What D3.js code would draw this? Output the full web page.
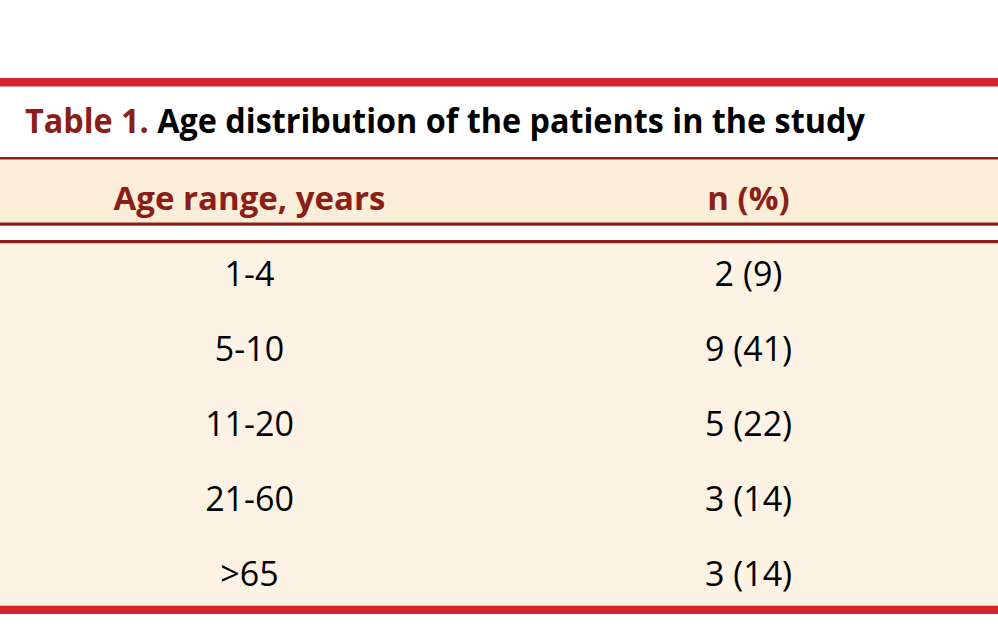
<!DOCTYPE html>
<html>
<head>
<meta charset="utf-8">
<script src="https://cdn.jsdelivr.net/npm/d3@7"></script>
<style>
  body { margin: 0; background: #fff; }
  svg text { font-family: "Open Sans", "Noto Sans", sans-serif; }
</style>
</head>
<body>
<div id="table"></div>
<script>
// Table content
var titleLabel = 'Table 1.';
var titleText  = 'Age distribution of the patients in the study';
var columns    = ['Age range, years', 'n (%)'];
var ageRanges  = ['1-4', '5-10', '11-20', '21-60', '>65'];
var counts     = [2, 9, 5, 3, 3];
var percents   = [9, 41, 22, 14, 14];

var width = 998, height = 628;

var red = '#d4252e', darkRed = '#8b1e17', headFill = '#fbeed9', bodyFill = '#fcf3e5';

var svg = d3.select('#table')
            .append('svg')
            .attr('width', width)
            .attr('height', height);

// Columns and rows
var xScale = d3.scaleBand()
               .domain(columns)
               .range([0, width]);

var yScale = d3.scaleBand()
               .domain(ageRanges)
               .range([236, 611]);

// Squeeze a text horizontally (about its anchor x) to a target width,
// the original face is narrower than what we have installed
function squeeze (sel, cx, target)
{
    var len = sel.node().getComputedTextLength();
    if (len > target)
    {
        var k = target / len;
        sel.attr('transform', 'translate(' + cx + ',0) scale(' + k + ',1) translate(' + (-cx) + ',0)');
    }
}

// Backgrounds
svg.append('rect').attr('x', 0).attr('y', 159).attr('width', width).attr('height', 64).attr('fill', headFill);
svg.append('rect').attr('x', 0).attr('y', 243).attr('width', width).attr('height', 363).attr('fill', bodyFill);

// Rules
svg.append('rect').attr('x', 0).attr('y', 78).attr('width', width).attr('height', 8.5).attr('fill', red);
svg.append('rect').attr('x', 0).attr('y', 157).attr('width', width).attr('height', 2.5).attr('fill', darkRed);
svg.append('rect').attr('x', 0).attr('y', 222.5).attr('width', width).attr('height', 3.2).attr('fill', darkRed);
svg.append('rect').attr('x', 0).attr('y', 240).attr('width', width).attr('height', 3.2).attr('fill', darkRed);
svg.append('rect').attr('x', 0).attr('y', 605.7).attr('width', width).attr('height', 8.3).attr('fill', red);

// Title
var title = svg.append('text')
               .attr('x', 25)
               .attr('y', 133)
               .attr('font-size', 34.5)
               .attr('font-weight', 700);
title.append('tspan').attr('fill', darkRed).text(titleLabel);
title.append('tspan').attr('fill', '#000').text(' ' + titleText);
squeeze(title, 25, 840);

// Column headers
var headTargets = [275, 85];

svg.selectAll('.colHead')
   .data(columns)
   .enter()
   .append('text')
   .attr('class', 'colHead')
   .attr('x', function (d) { return xScale(d) + xScale.bandwidth() / 2; })
   .attr('y', 210)
   .attr('text-anchor', 'middle')
   .attr('font-size', 33)
   .attr('font-weight', 700)
   .attr('fill', darkRed)
   .text(function (d) { return d; })
   .each(function (d, i) { squeeze(d3.select(this), xScale(d) + xScale.bandwidth() / 2, headTargets[i]); });

// Body rows
var rows = ageRanges.map(function (d, i) { return { age: d, n: counts[i] + ' (' + percents[i] + ')' }; });

var cells = svg.selectAll('.row')
               .data(rows)
               .enter()
               .append('g')
               .attr('class', 'row')
               .attr('transform', function (d) { return 'translate(0,' + (yScale(d.age) + yScale.bandwidth() / 2 + 12) + ')'; });

cells.append('text')
     .attr('x', xScale(columns[0]) + xScale.bandwidth() / 2)
     .attr('text-anchor', 'middle')
     .attr('font-size', 34)
     .attr('fill', '#000')
     .text(function (d) { return d.age; });

cells.append('text')
     .attr('x', xScale(columns[1]) + xScale.bandwidth() / 2)
     .attr('text-anchor', 'middle')
     .attr('font-size', 34)
     .attr('fill', '#000')
     .text(function (d) { return d.n; });
</script>
</body>
</html>
